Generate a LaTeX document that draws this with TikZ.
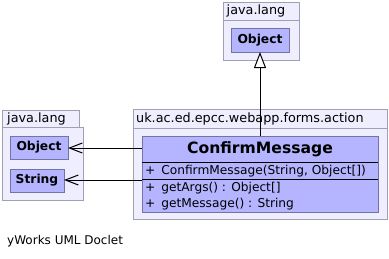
\documentclass[tikz,border=0pt]{standalone}
\usepackage{fontspec}
\setmainfont{DejaVu Sans}
\usetikzlibrary{arrows.meta}
\definecolor{pkgFill}{RGB}{238,238,255}
\definecolor{pkgLine}{RGB}{160,160,178}
\definecolor{clsFill}{RGB}{180,180,255}
\definecolor{clsLine}{RGB}{115,115,165}
\newcommand{\umlScale}[0]{1pt}

\begin{document}
\begin{tikzpicture}[x=\umlScale, y=-\umlScale]
  \tikzset{
    pkg/.style={draw=pkgLine, fill=pkgFill, line width=1pt},
    pkgLabel/.style={anchor=west, font=\fontsize{12.8}{14}\selectfont, inner sep=0pt},
    cls/.style={draw=clsLine, fill=clsFill, line width=1pt},
    clsName/.style={font=\fontsize{12.3}{14}\selectfont\bfseries, inner sep=0pt},
    member/.style={anchor=west, font=\fontsize{12.2}{14}\selectfont, inner sep=0pt},
    uses/.style={-{Straight Barb[length=13pt,width=10pt]}, line width=1pt},
    extends/.style={-{Triangle[length=16pt,width=12pt,fill=white]}, line width=1pt}
  }
  \useasboundingbox (0,0) rectangle (389,258);

  % java.lang (top)
  \draw[pkg] (223,2) rectangle (299,20);
  \draw[pkg] (223,20) rectangle (299,60);
  \node[pkgLabel] (topPkg) at (226.5,11) {java.lang};
  \draw[cls] (231,28) rectangle (289,52);
  \node[clsName] (topObject) at (260,40) {Object};
  \coordinate (topObject-s) at (260,52);

  % java.lang (left)
  \draw[pkg] (2,110) rectangle (79,127);
  \draw[pkg] (2,127) rectangle (83,200);
  \node[pkgLabel] (leftPkg) at (7,118.5) {java.lang};
  \draw[cls] (10,136) rectangle (68,159);
  \node[clsName] (object) at (39,147.5) {Object};
  \coordinate (object-e) at (68,148);
  \draw[cls] (10,169) rectangle (64,192);
  \node[clsName] (string) at (37,180.5) {String};
  \coordinate (string-e) at (64,180);

  % uk.ac.ed.epcc.webapp.forms.action
  \draw[pkg] (133,109) rectangle (387,128);
  \draw[pkg] (133,128) rectangle (387,219);
  \node[pkgLabel] (actionPkg) at (136,118.5) {uk.ac.ed.epcc.webapp.forms.action};
  \draw[cls] (142,136) rectangle (378,212);
  \draw[line width=1pt] (142,162) -- (378,162);
  \draw[line width=1pt] (142,179) -- (378,179);
  \node[font=\fontsize{15.6}{18}\selectfont\bfseries, inner sep=0pt] (confirm) at (260,149) {ConfirmMessage};
  \node[member] (ctor) at (145,171) {+\, ConfirmMessage(String, Object[])};
  \node[member] (getArgs) at (145,188) {+\, getArgs() : Object[]};
  \node[member] (getMessage) at (145,204) {+\, getMessage() : String};
  \coordinate (confirm-n) at (260,136);
  \coordinate (confirm-w1) at (142,148);
  \coordinate (confirm-w2) at (142,180);

  \draw[extends] (confirm-n) -- (topObject-s);
  \draw[uses] (confirm-w1) -- (object-e);
  \draw[uses] (confirm-w2) -- (string-e);

  \node[anchor=west, font=\fontsize{12}{14}\selectfont, inner sep=0pt] (doclet) at (7,241.5) {yWorks UML Doclet};
\end{tikzpicture}
\end{document}
